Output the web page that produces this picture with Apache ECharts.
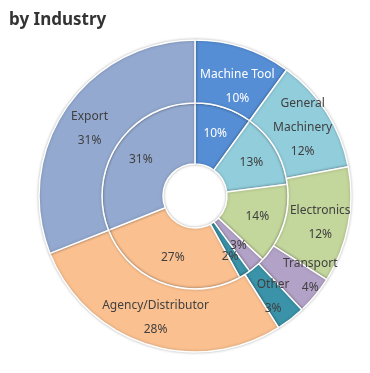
<!DOCTYPE html>
<html><head><meta charset="utf-8">
<script src="https://cdn.jsdelivr.net/npm/echarts@6/dist/echarts.min.js"></script>
<style>html,body{margin:0;padding:0;background:#fff}#c{width:370px;height:373px}</style>
</head><body><div id="c"></div>
<script>
const categories = ['Machine Tool','General Machinery','Electronics','Transport','Other','Agency/Distributor','Export'];
const innerValues = [10,13,14,3,2,27,31];
const outerValues = [10,12,12,4,3,28,31];
const colors = ['#558ED5','#92CDDC','#C3D69B','#B3A2C7','#3A93A8','#FAC090','#93A9D0'];

const chart = echarts.init(document.getElementById('c'));
const font = '"Noto Sans", sans-serif';
const outerLabelTweaks = [
  {color: '#fff', offset: [3, 12]}, undefined, {offset: [0, 3]}, {offset: [17, -2]},
  {offset: [0, 0]}, undefined, {offset: [0, 4]}
];
chart.setOption({
  animation: false,
  title: {text: 'by Industry', left: 4, top: 7, textStyle: {fontFamily: font, fontSize: 17, fontWeight: 'bold', color: '#333'}},
  series: [
    {
      type: 'pie', center: [195, 196], radius: [32, 93], startAngle: 90, clockwise: true,
      avoidLabelOverlap: false, labelLayout: {hideOverlap: false},
      itemStyle: {borderColor: '#fff', borderWidth: 1.5, shadowBlur: 3, shadowColor: 'rgba(0,0,0,0.25)'},
      label: {position: 'inside', fontFamily: font, fontSize: 12, color: '#404040',
        formatter: p => p.value + '%'},
      labelLine: {show: false},
      data: categories.map((n, i) => ({name: n, value: innerValues[i], itemStyle: {color: colors[i]},
        label: i === 0 ? {color: '#fff'} : (i === 4 ? {offset: [0, 5]} : undefined)}))
    },
    {
      type: 'pie', center: [195, 196], radius: [93, 156], startAngle: 90, clockwise: true,
      avoidLabelOverlap: false, labelLayout: {hideOverlap: false},
      itemStyle: {borderColor: '#fff', borderWidth: 1.5, shadowBlur: 3, shadowColor: 'rgba(0,0,0,0.25)'},
      label: {position: 'inside', fontFamily: font, fontSize: 12, color: '#404040', lineHeight: 24,
        formatter: p => p.name.replace('General ', 'General\n') + '\n' + p.value + '%'},
      labelLine: {show: false},
      data: categories.map((n, i) => ({name: n, value: outerValues[i], itemStyle: {color: colors[i]},
        label: outerLabelTweaks[i]}))
    }
  ]
});
</script></body></html>
